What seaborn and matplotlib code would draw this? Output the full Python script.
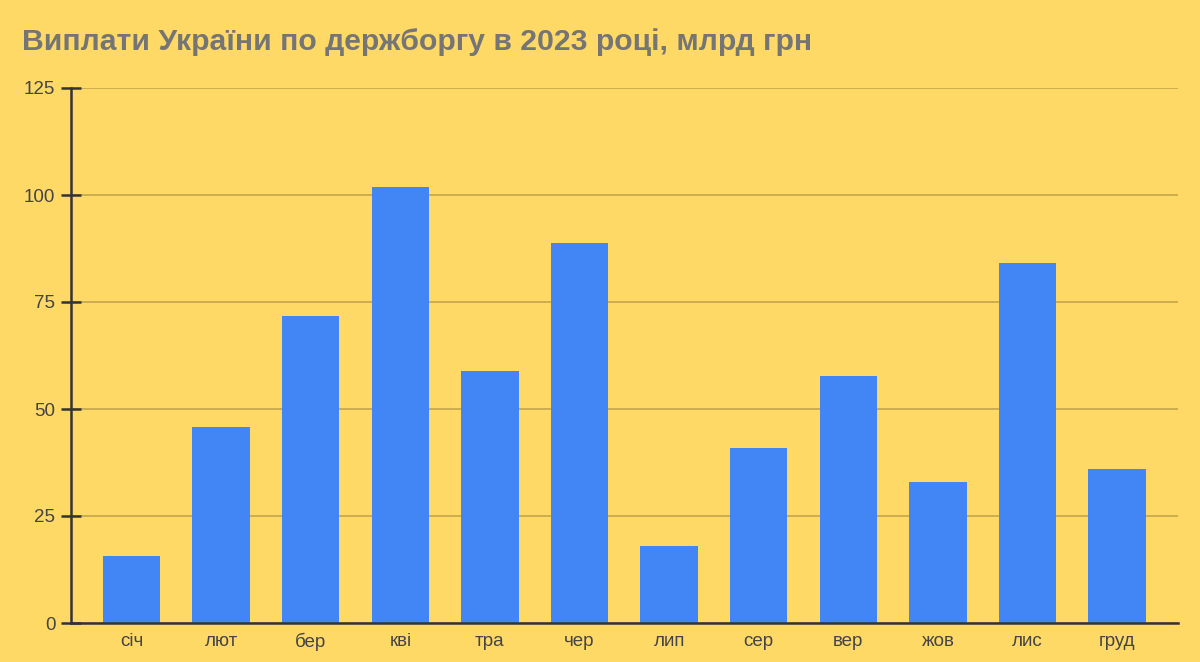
import matplotlib
matplotlib.use("Agg")
import matplotlib.pyplot as plt
import seaborn as sns
import pandas as pd

months = ["січ", "лют", "бер", "кві", "тра", "чер", "лип", "сер", "вер", "жов", "лис", "груд"]
payments = [15.7, 45.9, 71.7, 101.8, 58.8, 88.9, 17.9, 40.8, 57.8, 33.0, 84.0, 35.9]
title = "Виплати України по держборгу в 2023 році, млрд грн"
yticks = [0, 25, 50, 75, 100, 125]

BG = "#FFD966"
BAR = "#4285F4"
GRID = "#C4A64A"
AX = "#333333"
TXT = "#444444"

sns.set_theme(style="white")
plt.rcParams["font.family"] = ["Liberation Sans", "DejaVu Sans"]

df = pd.DataFrame({"month": months, "value": payments})

fig = plt.figure(figsize=(12, 6.62), dpi=100, facecolor=BG)
ax = fig.add_axes([70.7 / 1200, (662 - 623) / 662, (1178 - 70.7) / 1200, (623 - 88) / 662])
ax.set_facecolor(BG)

sns.barplot(data=df, x="month", y="value", color=BAR, saturation=1, width=0.64,
            linewidth=0, edgecolor=BAR, ax=ax, zorder=3)

ax.set_xlim(-0.679, 11.68)
ax.set_ylim(0, 125)
ax.set_yticks(yticks)
ax.set_yticklabels([str(t) for t in yticks])
ax.yaxis.grid(True, color=GRID, linewidth=1.2, zorder=0)
ax.xaxis.grid(False)
ax.set_axisbelow(True)

for s in ["top", "right"]:
    ax.spines[s].set_visible(False)
ax.spines["left"].set_color(AX)
ax.spines["left"].set_linewidth(1.8)
ax.spines["bottom"].set_color(AX)
ax.spines["bottom"].set_linewidth(1.8)
ax.spines["left"].set_zorder(5)
ax.spines["bottom"].set_zorder(5)

ax.tick_params(axis="y", direction="inout", length=14, width=1.8, color=AX,
               labelsize=13.5, labelcolor=TXT, pad=4, left=True)
ax.tick_params(axis="x", length=0, labelsize=13.5, labelcolor=TXT, pad=7)
ax.set_xlabel("")
ax.set_ylabel("")

fig.text(22 / 1200, 1 - 42 / 662, title, fontsize=21.7, fontweight="bold",
         color="#757575", ha="left", va="center")

fig.savefig("out.png", dpi=100, facecolor=BG)
